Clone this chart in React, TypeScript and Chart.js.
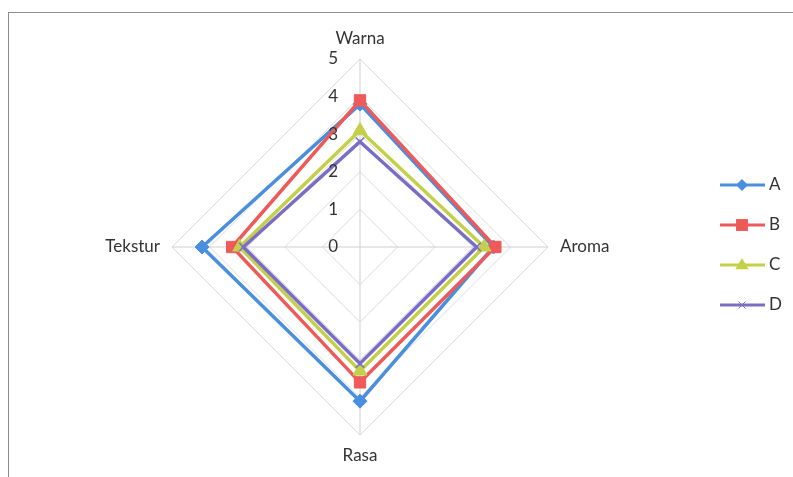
import React, { useEffect, useRef } from "react";
import { Chart, registerables } from "chart.js";

Chart.register(...registerables);

const categories = ["Warna", "Aroma", "Rasa", "Tekstur"];
const seriesA = [3.8, 3.55, 4.1, 4.2];
const seriesB = [3.9, 3.6, 3.6, 3.4];
const seriesC = [3.1, 3.3, 3.3, 3.2];
const seriesD = [2.8, 3.1, 3.1, 3.1];
const seriesNames = ["A", "B", "C", "D"];
const tickLabels = [0, 1, 2, 3, 4, 5];

const colors = ["#4a8ee0", "#ee5a5a", "#c4d04a", "#7a6ec4"];
const markers = ["rectRot", "rect", "triangle", "crossRot"];
const markerRadius = [7, 8, 8, 6];
const FONT = "Lato, 'Open Sans', sans-serif";

function drawMarker(ctx: CanvasRenderingContext2D, style: string, r: number, x: number, y: number) {
  ctx.beginPath();
  if (style === "rectRot") {
    ctx.moveTo(x, y - r);
    ctx.lineTo(x + r, y);
    ctx.lineTo(x, y + r);
    ctx.lineTo(x - r, y);
    ctx.closePath();
    ctx.fill();
  } else if (style === "rect") {
    const s = r * 0.85;
    ctx.rect(x - s, y - s, 2 * s, 2 * s);
    ctx.fill();
  } else if (style === "triangle") {
    ctx.moveTo(x, y - r);
    ctx.lineTo(x + r * 0.95, y + r * 0.6);
    ctx.lineTo(x - r * 0.95, y + r * 0.6);
    ctx.closePath();
    ctx.fill();
  } else {
    const s = r * 0.7;
    ctx.moveTo(x - s, y - s);
    ctx.lineTo(x + s, y + s);
    ctx.moveTo(x + s, y - s);
    ctx.lineTo(x - s, y + s);
    ctx.stroke();
  }
}

const overlay = {
  id: "overlay",
  afterDraw(chart: any) {
    const ctx = chart.ctx;
    const scale = chart.scales.r;
    ctx.save();
    // frame
    ctx.strokeStyle = "#8c8c8c";
    ctx.lineWidth = 1;
    ctx.strokeRect(8.5, 12.5, 800, 480);
    // point labels
    ctx.fillStyle = "#333333";
    ctx.font = `17px ${FONT}`;
    categories.forEach((c, i) => {
      const p = scale.getPointPosition(i, scale.drawingArea + 12);
      if (i === 0) {
        ctx.textAlign = "center";
        ctx.textBaseline = "bottom";
      } else if (i === 1) {
        ctx.textAlign = "left";
        ctx.textBaseline = "middle";
      } else if (i === 2) {
        ctx.textAlign = "center";
        ctx.textBaseline = "top";
      } else {
        ctx.textAlign = "right";
        ctx.textBaseline = "middle";
      }
      ctx.fillText(c, p.x, p.y);
    });
    // tick labels
    ctx.textAlign = "right";
    ctx.textBaseline = "middle";
    tickLabels.forEach((t) => {
      const d = scale.getDistanceFromCenterForValue(t);
      ctx.fillText(String(t), scale.xCenter - 22, scale.yCenter - d);
    });
    // legend
    const lx = 720;
    const ly0 = 185;
    chart.data.datasets.forEach((ds: any, i: number) => {
      const y = ly0 + i * 40;
      ctx.strokeStyle = colors[i];
      ctx.lineWidth = 3;
      ctx.beginPath();
      ctx.moveTo(lx, y);
      ctx.lineTo(lx + 45, y);
      ctx.stroke();
      ctx.fillStyle = colors[i];
      ctx.strokeStyle = colors[i];
      ctx.lineWidth = 1;
      drawMarker(ctx, markers[i], markerRadius[i] - 1, lx + 22, y);
      ctx.fillStyle = "#333333";
      ctx.textAlign = "left";
      ctx.textBaseline = "middle";
      ctx.font = `17px ${FONT}`;
      ctx.fillText(ds.label, lx + 49, y);
    });
    ctx.restore();
  },
};

export default function App() {
  const ref = useRef<HTMLCanvasElement | null>(null);
  useEffect(() => {
    if (!ref.current) return;
    const all = [seriesA, seriesB, seriesC, seriesD];
    const chart = new Chart(ref.current, {
      type: "radar",
      data: {
        labels: categories,
        datasets: all.map((d, i) => ({
          label: seriesNames[i],
          data: d,
          order: all.length - i,
          borderColor: colors[i],
          backgroundColor: colors[i],
          pointBackgroundColor: colors[i],
          pointBorderColor: colors[i],
          pointStyle: markers[i] as any,
          pointRadius: markerRadius[i],
          pointBorderWidth: i === 3 ? 1.5 : 1,
          borderWidth: 3.5,
          fill: false,
          tension: 0,
        })),
      },
      options: {
        responsive: false,
        animation: false,
        layout: { padding: { left: 172, right: 245, top: 59, bottom: 42 } },
        plugins: {
          legend: { display: false },
          tooltip: { enabled: false },
        },
        scales: {
          r: {
            min: 0,
            max: 5,
            ticks: { stepSize: 1, display: false },
            pointLabels: { display: false },
            grid: { color: "#dcdcdc", lineWidth: 1 },
            angleLines: { color: "#cfcfcf", lineWidth: 1 },
          },
        },
      },
      plugins: [overlay],
    });
    return () => chart.destroy();
  }, []);
  return (
    <div style={{ position: "fixed", left: 0, top: 0, width: 793, height: 477, background: "#fff" }}>
      <canvas ref={ref} width={793} height={477} />
    </div>
  );
}
